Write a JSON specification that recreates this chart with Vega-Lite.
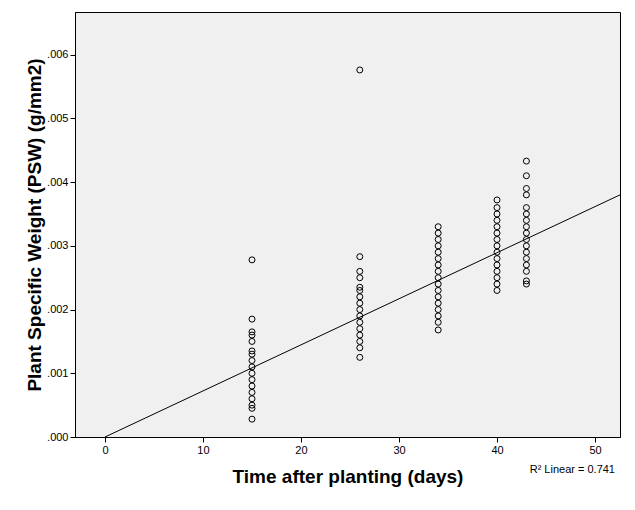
{
  "$schema": "https://vega.github.io/schema/vega-lite/v6.json",
  "autosize": "none",
  "width": 545,
  "height": 425,
  "padding": {"left": 75, "top": 12, "right": 15, "bottom": 73},
  "background": "white",
  "title": {"text": ["R\u00b2 Linear = 0.741"], "orient": "bottom", "anchor": "end", "fontSize": 11, "fontWeight": "normal", "font": "Liberation Sans", "offset": -22, "dx": -5, "color": "black"},
  "config": {"view": {"fill": "#f0f0f0", "stroke": "black"}, "font": "Liberation Sans"},
  "layer": [
    {
      "data": {"values": [
        {"t": 15, "w": 0.00028}, {"t": 15, "w": 0.00045}, {"t": 15, "w": 0.0005}, {"t": 15, "w": 0.0006}, {"t": 15, "w": 0.0007}, {"t": 15, "w": 0.0008}, {"t": 15, "w": 0.0009}, {"t": 15, "w": 0.001}, {"t": 15, "w": 0.0011}, {"t": 15, "w": 0.0012}, {"t": 15, "w": 0.0013}, {"t": 15, "w": 0.00135}, {"t": 15, "w": 0.0015}, {"t": 15, "w": 0.0016}, {"t": 15, "w": 0.00165}, {"t": 15, "w": 0.00185}, {"t": 15, "w": 0.00278},
        {"t": 26, "w": 0.00125}, {"t": 26, "w": 0.0014}, {"t": 26, "w": 0.0015}, {"t": 26, "w": 0.0016}, {"t": 26, "w": 0.0017}, {"t": 26, "w": 0.0018}, {"t": 26, "w": 0.0019}, {"t": 26, "w": 0.002}, {"t": 26, "w": 0.0021}, {"t": 26, "w": 0.0022}, {"t": 26, "w": 0.0023}, {"t": 26, "w": 0.00235}, {"t": 26, "w": 0.0025}, {"t": 26, "w": 0.0026}, {"t": 26, "w": 0.00283}, {"t": 26, "w": 0.00576},
        {"t": 34, "w": 0.00168}, {"t": 34, "w": 0.0018}, {"t": 34, "w": 0.0019}, {"t": 34, "w": 0.002}, {"t": 34, "w": 0.0021}, {"t": 34, "w": 0.0022}, {"t": 34, "w": 0.0023}, {"t": 34, "w": 0.0024}, {"t": 34, "w": 0.0025}, {"t": 34, "w": 0.0026}, {"t": 34, "w": 0.0027}, {"t": 34, "w": 0.0028}, {"t": 34, "w": 0.0029}, {"t": 34, "w": 0.003}, {"t": 34, "w": 0.0031}, {"t": 34, "w": 0.0032}, {"t": 34, "w": 0.0033},
        {"t": 40, "w": 0.0023}, {"t": 40, "w": 0.0024}, {"t": 40, "w": 0.0025}, {"t": 40, "w": 0.0026}, {"t": 40, "w": 0.0027}, {"t": 40, "w": 0.0028}, {"t": 40, "w": 0.0029}, {"t": 40, "w": 0.003}, {"t": 40, "w": 0.0031}, {"t": 40, "w": 0.0032}, {"t": 40, "w": 0.0033}, {"t": 40, "w": 0.0034}, {"t": 40, "w": 0.0035}, {"t": 40, "w": 0.0036}, {"t": 40, "w": 0.00372},
        {"t": 43, "w": 0.0024}, {"t": 43, "w": 0.00245}, {"t": 43, "w": 0.0026}, {"t": 43, "w": 0.0027}, {"t": 43, "w": 0.0028}, {"t": 43, "w": 0.0029}, {"t": 43, "w": 0.003}, {"t": 43, "w": 0.0031}, {"t": 43, "w": 0.0032}, {"t": 43, "w": 0.0033}, {"t": 43, "w": 0.0034}, {"t": 43, "w": 0.0035}, {"t": 43, "w": 0.0036}, {"t": 43, "w": 0.0038}, {"t": 43, "w": 0.0039}, {"t": 43, "w": 0.0041}, {"t": 43, "w": 0.00433}
      ]},
      "mark": {"type": "point", "shape": "circle", "filled": false, "color": "black", "size": 36, "strokeWidth": 1, "opacity": 1},
      "encoding": {
        "x": {"field": "t", "type": "quantitative", "title": "Time after planting (days)",
          "scale": {"domain": [-3.06, 52.55], "nice": false, "zero": false},
          "axis": {"values": [0, 10, 20, 30, 40, 50], "grid": false, "domainColor": "black", "tickColor": "black", "labelColor": "black", "labelFontSize": 11, "titleFontSize": 19, "titleFontWeight": "bold", "titleColor": "black", "titlePadding": 12}},
        "y": {"field": "w", "type": "quantitative", "title": "Plant Specific Weight (PSW) (g/mm2)",
          "scale": {"domain": [0, 0.00667], "nice": false},
          "axis": {"values": [0, 0.001, 0.002, 0.003, 0.004, 0.005, 0.006], "labelExpr": "replace(format(datum.value, '.3f'), '0.', '.')", "grid": false, "domainColor": "black", "tickColor": "black", "labelColor": "black", "labelFontSize": 11, "titleFontSize": 19, "titleFontWeight": "bold", "titleColor": "black", "titlePadding": 2}}
      }
    },
    {
      "data": {"values": [{"t": 0, "w": 0}, {"t": 52.55, "w": 0.0038}]},
      "mark": {"type": "line", "color": "black", "strokeWidth": 1, "clip": true},
      "encoding": {"x": {"field": "t", "type": "quantitative"}, "y": {"field": "w", "type": "quantitative"}}
    }
  ]
}
